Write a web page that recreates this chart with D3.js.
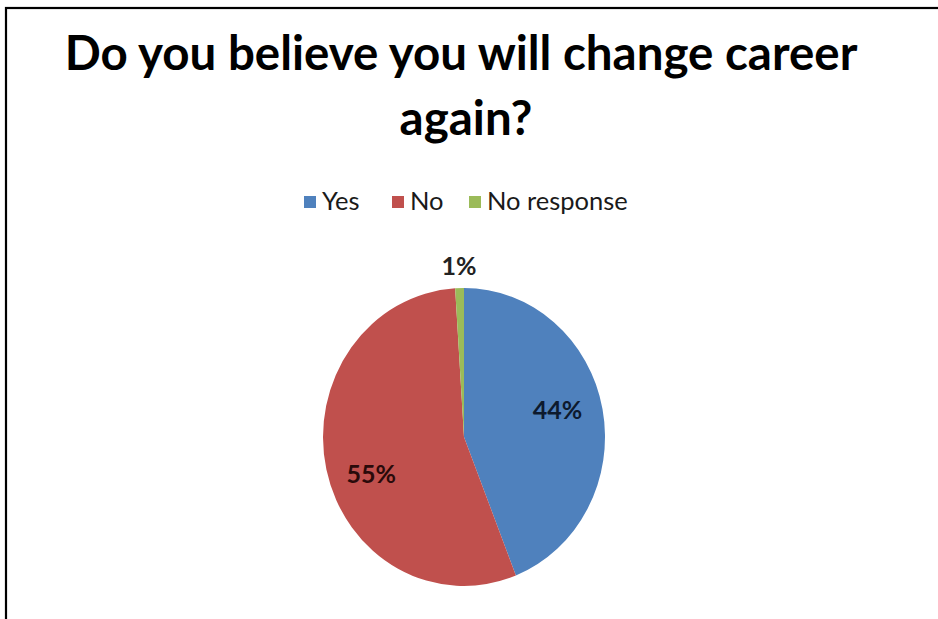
<!DOCTYPE html>
<html>
<head>
<meta charset="utf-8">
<script src="https://cdn.jsdelivr.net/npm/d3@7"></script>
<style>
  html, body { margin: 0; padding: 0; background: #fff; }
  svg { display: block; }
</style>
</head>
<body>
<svg id="chart" width="938" height="619"></svg>
<script>
const titleLines = ["Do you believe you will change career", "again?"];
const categories = ["Yes", "No", "No response"];
const values = [44, 55, 1];
const labels = ["44%", "55%", "1%"];
const colors = ["#4F81BD", "#C0504D", "#9BBB59"];

const FONT = "Lato, 'Open Sans', sans-serif";
const svg = d3.select("#chart");

// frame (cut off at right and bottom)
svg.append("rect")
  .attr("x", 6).attr("y", 8)
  .attr("width", 1000).attr("height", 1000)
  .attr("fill", "#fff").attr("stroke", "#000").attr("stroke-width", 2.2);

// title
const t1 = svg.append("text")
  .attr("x", 461).attr("y", 70)
  .attr("text-anchor", "middle")
  .attr("font-family", FONT).attr("font-weight", 700)
  .attr("font-size", 40).attr("fill", "#000")
  .text(titleLines[0]);
const w1 = t1.node().getComputedTextLength();
const titleSize = 40 * 793 / w1;
t1.attr("font-size", titleSize);
svg.append("text")
  .attr("x", 466).attr("y", 135)
  .attr("text-anchor", "middle")
  .attr("font-family", FONT).attr("font-weight", 700)
  .attr("font-size", titleSize).attr("fill", "#000")
  .text(titleLines[1]);

// legend
const legendX = [304, 392, 469];
const legend = svg.append("g");
categories.forEach((c, i) => {
  legend.append("rect")
    .attr("x", legendX[i]).attr("y", 196)
    .attr("width", 12).attr("height", 12)
    .attr("fill", colors[i]);
  legend.append("text")
    .attr("x", legendX[i] + 18).attr("y", 210)
    .attr("font-family", FONT).attr("font-size", 25.5)
    .attr("fill", "#1a1a1a")
    .text(c);
});

// pie
const cx = 464, cy = 437, rY = 149, rX = 141;
const pie = d3.pie().sort(null).value(d => d);
const arcs = pie(values);
const arc = d3.arc().innerRadius(0).outerRadius(rY);

const g = svg.append("g")
  .attr("transform", `translate(${cx},${cy}) scale(${rX / rY},1)`);
g.selectAll("path")
  .data(arcs)
  .enter().append("path")
  .attr("d", arc)
  .attr("fill", (d, i) => colors[i]);

// labels
const inner = d3.arc().innerRadius(rY * 0.66).outerRadius(rY * 0.66);
const outer = d3.arc().innerRadius(rY + 22).outerRadius(rY + 22);
const nudge = [[2, -8], [-2, 16], [0, 0]];
arcs.forEach((d, i) => {
  const p = (i === 2 ? outer : inner).centroid(d);
  svg.append("text")
    .attr("x", cx + p[0] * rX / rY + nudge[i][0])
    .attr("y", cy + p[1] + nudge[i][1])
    .attr("dy", "0.35em")
    .attr("text-anchor", "middle")
    .attr("font-family", FONT).attr("font-weight", 700)
    .attr("font-size", 25)
    .attr("fill", i === 1 ? "#2a0a0a" : (i === 0 ? "#0d1a2e" : "#222"))
    .text(labels[i]);
});
</script>
</body>
</html>
